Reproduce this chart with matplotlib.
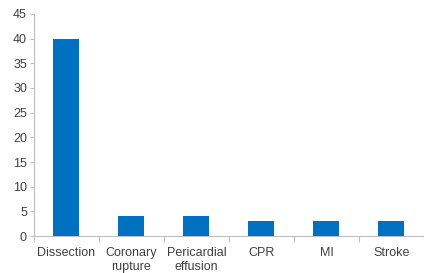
import matplotlib
matplotlib.use("Agg")
import matplotlib.pyplot as plt
import numpy as np

categories = ["Dissection", "Coronary\nrupture", "Pericardial\neffusion", "CPR", "MI", "Stroke"]
values = [40, 4, 4, 3, 3, 3]
yticks = [0, 5, 10, 15, 20, 25, 30, 35, 40, 45]

plt.rcParams['font.family'] = ['Liberation Sans', 'DejaVu Sans']
fig = plt.figure(figsize=(4.24, 2.73), dpi=100)
ax = fig.add_axes([0.08, 0.135, 0.92, 0.814])
x = np.arange(len(categories))
ax.bar(x, values, width=0.4, color="#0070C0", zorder=3)
ax.set_xlim(-0.5, len(categories) - 0.5)
ax.set_ylim(0, 45)
ax.set_yticks(yticks)
ax.set_xticks(x)
ax.set_xticklabels(categories, fontsize=9, color="#404040", linespacing=1.15)
ax.set_xticks(np.arange(-0.5, len(categories) + 0.5, 1), minor=True)
ax.tick_params(axis='x', which='major', length=0, pad=8)
ax.tick_params(axis='x', which='minor', length=4, color="#BFBFBF", width=0.8)
ax.tick_params(axis='y', length=3, color="#BFBFBF", width=0.8, labelsize=9, labelcolor="#404040", pad=2)
for s in ['top', 'right']:
    ax.spines[s].set_visible(False)
for s in ['left', 'bottom']:
    ax.spines[s].set_color("#BFBFBF")
    ax.spines[s].set_linewidth(0.8)
fig.savefig("out.png", dpi=100)
